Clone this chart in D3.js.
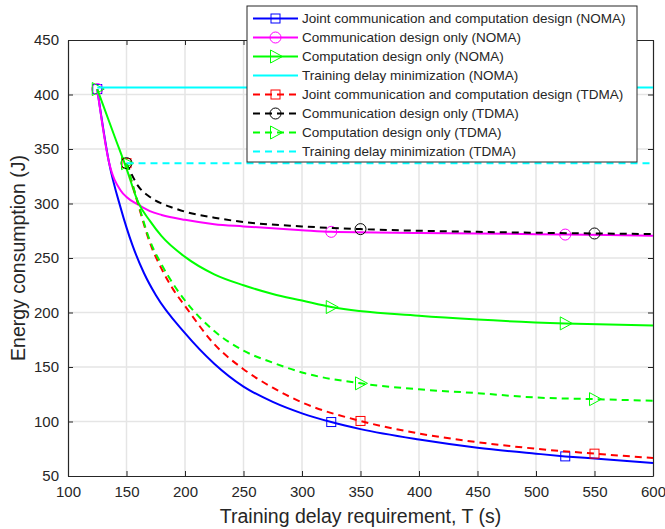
<!DOCTYPE html>
<html>
<head>
<meta charset="utf-8">
<script src="https://cdn.jsdelivr.net/npm/d3@7"></script>
<style>
  body { margin: 0; background: #fff; }
  text { font-family: "Liberation Sans", Arial, Helvetica, sans-serif; fill: #262626; }
</style>
</head>
<body>
<div id="chart"></div>
<script>

// delay requirement (s) and energy (J) for each scheme
var tNomaJoint = [125, 135, 145, 155, 165, 175, 200, 225, 250, 275, 300, 325, 350, 400, 450, 500, 525, 550, 600];
var eNomaJoint = [405, 338, 296, 262, 236, 216, 181, 153, 132, 118, 107.5, 99.5, 93, 83.5, 76, 70.5, 68, 66, 62];

var tNomaComm = [125, 135, 145, 150, 160, 170, 180, 200, 225, 250, 300, 325, 400, 450, 525, 600];
var eNomaComm = [405, 338, 312, 306, 299, 293, 289.5, 285, 281, 279, 275.5, 274, 273, 272.5, 271.5, 270.5];

var tNomaComp = [125, 140, 150, 160, 170, 180, 200, 225, 250, 275, 300, 325, 400, 450, 525, 600];
var eNomaComp = [405, 361, 332, 301, 284, 270, 251, 235, 225, 217, 211, 205, 197, 193.5, 190, 188];

var tNomaDelay = [125, 600];
var eNomaDelay = [406.5, 406.5];

var tTdmaJoint = [150, 160, 170, 180, 190, 200, 225, 250, 275, 300, 350, 400, 450, 500, 550, 600];
var eTdmaJoint = [337, 299, 264, 240, 221, 206, 171, 148, 131, 117.5, 100.5, 89, 81, 75, 70.5, 66.5];

var tTdmaComm = [150, 160, 170, 180, 190, 200, 225, 250, 300, 350, 400, 450, 550, 600];
var eTdmaComm = [337, 316, 306, 300, 296, 292.5, 287, 283, 279, 276.5, 275, 274, 272.5, 272];

var tTdmaComp = [150, 160, 170, 180, 190, 200, 225, 250, 275, 300, 350, 400, 450, 500, 550, 600];
var eTdmaComp = [337, 300, 266, 244, 226, 211, 183, 165, 154, 145, 135, 129.5, 126, 122, 120.5, 119];

var tTdmaDelay = [150, 600];
var eTdmaDelay = [337, 337];

// where the markers sit
var markNoma = [125, 325, 525];
var markTdma = [150, 350, 550];

var seriesNames = [
  "Joint communication and computation design (NOMA)",
  "Communication design only (NOMA)",
  "Computation design only (NOMA)",
  "Training delay minimization (NOMA)",
  "Joint communication and computation design (TDMA)",
  "Communication design only (TDMA)",
  "Computation design only (TDMA)",
  "Training delay minimization (TDMA)"
];

var xTicks = [100, 150, 200, 250, 300, 350, 400, 450, 500, 550, 600];
var yTicks = [50, 100, 150, 200, 250, 300, 350, 400, 450];

var series = [
  {t: tNomaJoint, e: eNomaJoint, color: "#0000ff", dash: null, marker: "square", marks: markNoma},
  {t: tNomaComm, e: eNomaComm, color: "#ff00ff", dash: null, marker: "circle", marks: markNoma},
  {t: tNomaComp, e: eNomaComp, color: "#00ff00", dash: null, marker: "triangle", marks: markNoma},
  {t: tNomaDelay, e: eNomaDelay, color: "#00ffff", dash: null, marker: null, marks: []},
  {t: tTdmaJoint, e: eTdmaJoint, color: "#ff0000", dash: "7,5", marker: "square", marks: markTdma},
  {t: tTdmaComm, e: eTdmaComm, color: "#000000", dash: "7,5", marker: "circle", marks: markTdma},
  {t: tTdmaComp, e: eTdmaComp, color: "#00ff00", dash: "7,5", marker: "triangle", marks: markTdma},
  {t: tTdmaDelay, e: eTdmaDelay, color: "#00ffff", dash: "7,5", marker: null, marks: []}
];
series.forEach(function(s, i) { s.name = seriesNames[i]; });

// set the dimensions and margins of the graph
var margin = {top: 40, right: 12, bottom: 53, left: 68},
    width = 665 - margin.left - margin.right,
    height = 529 - margin.top - margin.bottom;

var root = d3.select("#chart")
  .append("svg")
    .attr("width", 665)
    .attr("height", 529);

var svg = root.append("g")
    .attr("transform", "translate(" + margin.left + "," + margin.top + ")");

var x = d3.scaleLinear()
  .domain([100, 600])
  .range([0, width]);

var y = d3.scaleLinear()
  .domain([50, 450])
  .range([height, 0]);

// grid
svg.append("g")
  .selectAll("line")
  .data(xTicks.slice(1, -1))
  .enter()
  .append("line")
    .attr("x1", function(d) { return x(d); })
    .attr("x2", function(d) { return x(d); })
    .attr("y1", 0)
    .attr("y2", height)
    .attr("stroke", "#e5e5e5")
    .attr("stroke-width", 1.5);

svg.append("g")
  .selectAll("line")
  .data(yTicks.slice(1, -1))
  .enter()
  .append("line")
    .attr("y1", function(d) { return y(d); })
    .attr("y2", function(d) { return y(d); })
    .attr("x1", 0)
    .attr("x2", width)
    .attr("stroke", "#e5e5e5")
    .attr("stroke-width", 1.5);

// axes, ticks pointing inside
svg.append("g")
  .attr("transform", "translate(0," + height + ")")
  .call(d3.axisBottom(x).tickValues(xTicks).tickSizeInner(-5).tickSizeOuter(0).tickPadding(10));
svg.append("g")
  .call(d3.axisLeft(y).tickValues(yTicks).tickSizeInner(-5).tickSizeOuter(0).tickPadding(9));
svg.append("g")
  .call(d3.axisTop(x).tickValues(xTicks).tickSizeInner(-5).tickSizeOuter(0).tickFormat(""));
svg.append("g")
  .attr("transform", "translate(" + width + ",0)")
  .call(d3.axisRight(y).tickValues(yTicks).tickSizeInner(-5).tickSizeOuter(0).tickFormat(""));

svg.selectAll(".domain").attr("stroke", "#262626").attr("stroke-width", 1.2);
svg.selectAll(".tick line").attr("stroke", "#262626");
svg.selectAll(".tick text")
  .attr("font-size", 15)
  .attr("font-family", "Liberation Sans, Arial, sans-serif")
  .attr("fill", "#262626");

// curves
var line = d3.line()
  .x(function(d) { return x(d[0]); })
  .y(function(d) { return y(d[1]); })
  .curve(d3.curveMonotoneX);

function drawMarker(g, type, color, cx, cy) {
  if (type === "square") {
    g.append("rect")
      .attr("x", cx - 4.5).attr("y", cy - 4.5)
      .attr("width", 9).attr("height", 9)
      .attr("fill", "none").attr("stroke", color).attr("stroke-width", 1);
  } else if (type === "circle") {
    g.append("circle")
      .attr("cx", cx).attr("cy", cy).attr("r", 5.5)
      .attr("fill", "none").attr("stroke", color).attr("stroke-width", 1);
  } else if (type === "triangle") {
    g.append("path")
      .attr("d", "M" + (cx - 5) + "," + (cy - 6.5) + "L" + (cx + 7) + "," + cy + "L" + (cx - 5) + "," + (cy + 6.5) + "Z")
      .attr("fill", "none").attr("stroke", color).attr("stroke-width", 1);
  }
}

var curves = svg.append("g");
series.forEach(function(s) {
  var pts = s.t.map(function(t, i) { return [t, s.e[i]]; });
  curves.append("path")
    .datum(pts)
    .attr("fill", "none")
    .attr("stroke", s.color)
    .attr("stroke-width", 2)
    .attr("stroke-dasharray", s.dash)
    .attr("d", line);
  s.marks.forEach(function(m) {
    var i = s.t.indexOf(m);
    drawMarker(curves, s.marker, s.color, x(m), y(s.e[i]));
  });
});

// legend
var lg = root.append("g").attr("transform", "translate(247,6)");
lg.append("rect")
  .attr("width", 390).attr("height", 156)
  .attr("fill", "#fff")
  .attr("stroke", "#262626")
  .attr("stroke-width", 1);

var rows = lg.selectAll("g.row")
  .data(series)
  .enter()
  .append("g")
    .attr("class", "row")
    .attr("transform", function(d, i) { return "translate(0," + (12.5 + i * 19) + ")"; });

rows.append("line")
  .attr("x1", 6).attr("x2", 51)
  .attr("stroke", function(d) { return d.color; })
  .attr("stroke-width", 2)
  .attr("stroke-dasharray", function(d) { return d.dash; });

rows.each(function(d) {
  drawMarker(d3.select(this), d.marker, d.color, 28.5, 0);
});

rows.append("text")
  .attr("x", 55)
  .attr("dy", "0.35em")
  .attr("font-size", 13.5)
  .text(function(d) { return d.name; });

// axis labels
root.append("text")
  .attr("x", margin.left + width / 2)
  .attr("y", 523)
  .attr("text-anchor", "middle")
  .attr("font-size", 19.5)
  .text("Training delay requirement, T (s)");

root.append("text")
  .attr("transform", "translate(25," + (margin.top + height / 2) + ") rotate(-90)")
  .attr("text-anchor", "middle")
  .attr("font-size", 19.5)
  .text("Energy consumption (J)");

</script>
</body>
</html>
